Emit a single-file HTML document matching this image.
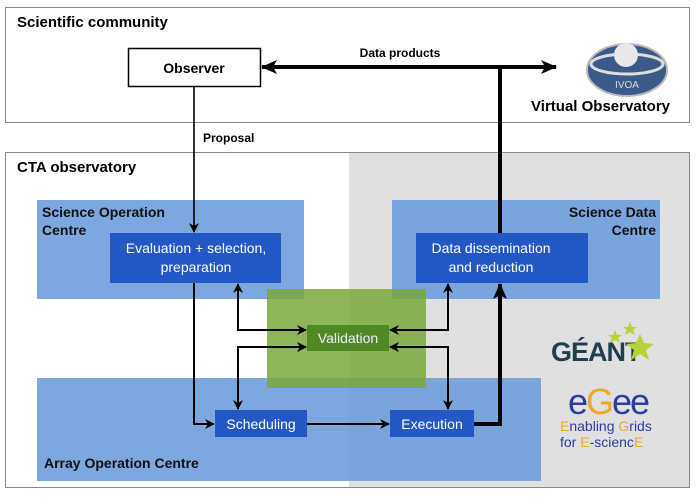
<!DOCTYPE html>
<html><head><meta charset="utf-8"><style>
body{margin:0;background:#fff}
svg text{font-family:"Liberation Sans",Arial,sans-serif}
</style></head><body>
<svg width="698" height="496" viewBox="0 0 698 496" xmlns="http://www.w3.org/2000/svg">
<defs>
<marker id="a" markerWidth="10" markerHeight="10" refX="9" refY="5" orient="auto" markerUnits="userSpaceOnUse"><path d="M0,0 L10,5 L0,10 L3,5 z" fill="#000"/></marker>
<marker id="b" markerWidth="16" markerHeight="14" refX="15" refY="7" orient="auto" markerUnits="userSpaceOnUse"><path d="M0,0 L16,7 L0,14 L4,7 z" fill="#000"/></marker>
</defs>
<rect x="5.5" y="7.5" width="684" height="115" fill="#fff" stroke="#888"/>
<text x="17" y="27" font-size="15" font-weight="bold">Scientific community</text>
<rect x="128.5" y="48.5" width="132" height="38" fill="#fff" stroke="#000" stroke-width="1.5"/>
<text x="194" y="73" font-size="14" font-weight="bold" text-anchor="middle">Observer</text>
<text x="400" y="57" font-size="12" font-weight="bold" text-anchor="middle">Data products</text>
<text x="670" y="111" font-size="15" font-weight="bold" text-anchor="end">Virtual Observatory</text>
<ellipse cx="627" cy="70" rx="40" ry="26" fill="#3a5a8a" stroke="#bbb" stroke-width="2"/>
<ellipse cx="627" cy="64" rx="36" ry="10" fill="none" stroke="#ddd" stroke-width="3"/>
<circle cx="626" cy="55" r="12" fill="#e8e8e8"/>
<text x="627" y="88" font-size="10" fill="#ddd" text-anchor="middle">IVOA</text>
<rect x="5.5" y="152.5" width="684" height="335" fill="#fff" stroke="#888"/>
<rect x="349" y="153" width="340" height="334" fill="#e0e0e0"/>
<text x="17" y="172" font-size="15" font-weight="bold">CTA observatory</text>
<text x="203" y="142" font-size="12" font-weight="bold">Proposal</text>
<rect x="37" y="200" width="267" height="99" fill="#6f9fdc" opacity="0.9"/>
<rect x="392" y="200" width="268" height="99" fill="#6f9fdc" opacity="0.9"/>
<rect x="37" y="378" width="504" height="103" fill="#6f9fdc" opacity="0.9"/>
<rect x="267" y="289" width="159" height="99" fill="#7aa83a" opacity="0.85"/>
<text x="42" y="217" font-size="14" font-weight="bold" fill="#111">Science Operation</text>
<text x="42" y="235" font-size="14" font-weight="bold" fill="#111">Centre</text>
<text x="656" y="217" font-size="14" font-weight="bold" fill="#111" text-anchor="end">Science Data</text>
<text x="656" y="235" font-size="14" font-weight="bold" fill="#111" text-anchor="end">Centre</text>
<text x="44" y="468" font-size="14" font-weight="bold" fill="#111">Array Operation Centre</text>
<rect x="110" y="233" width="171" height="50" fill="#2357c4"/>
<text x="196" y="253" font-size="14" fill="#fff" text-anchor="middle">Evaluation + selection,</text>
<text x="196" y="272" font-size="14" fill="#fff" text-anchor="middle">preparation</text>
<rect x="416" y="233" width="172" height="50" fill="#2357c4"/>
<text x="491" y="253" font-size="14" fill="#fff" text-anchor="middle">Data dissemination</text>
<text x="491" y="272" font-size="14" fill="#fff" text-anchor="middle">and reduction</text>
<rect x="307" y="325" width="82" height="26" fill="#4f8a24"/>
<text x="348" y="343" font-size="14" fill="#eef" text-anchor="middle">Validation</text>
<rect x="215" y="410" width="92" height="27" fill="#2357c4"/>
<text x="261" y="429" font-size="14" fill="#fff" text-anchor="middle">Scheduling</text>
<rect x="390" y="410" width="84" height="27" fill="#2357c4"/>
<text x="432" y="429" font-size="14" fill="#fff" text-anchor="middle">Execution</text>
<text x="551" y="361" font-size="27" font-weight="bold" fill="#1f3f4f" letter-spacing="-1">GÉANT</text>
<path d="M640,334 l4,9 10,1 -8,6 3,10 -9,-6 -9,6 3,-10 -8,-6 10,-1z" fill="#b5d334"/>
<path d="M615,330 l2,5 5,0 -4,3 2,5 -5,-3 -5,3 2,-5 -4,-3 5,0z" fill="#b5d334"/>
<path d="M630,322 l2,5 5,0 -4,3 2,5 -5,-3 -5,3 2,-5 -4,-3 5,0z" fill="#b5d334"/>
<text x="608" y="414" font-size="36" fill="#2a3ea0" text-anchor="middle" letter-spacing="-2">e<tspan fill="#f0a820">G</tspan>ee</text>
<text x="560" y="431" font-size="14" fill="#2a3ea0"><tspan fill="#f0a820">E</tspan>nabling <tspan fill="#f0a820">G</tspan>rids</text>
<text x="560" y="447" font-size="14" fill="#2a3ea0">for <tspan fill="#f0a820">E</tspan>-scienc<tspan fill="#f0a820">E</tspan></text>
<g fill="none" stroke="#000">
<line x1="500" y1="67" x2="262" y2="67" stroke-width="4" marker-end="url(#b)"/>
<line x1="498" y1="67" x2="556" y2="67" stroke-width="4" marker-end="url(#b)"/>
<line x1="500" y1="65" x2="500" y2="233" stroke-width="4"/>
<polyline points="474,424 500,424 500,284" stroke-width="4" marker-end="url(#b)"/>
<line x1="194" y1="86" x2="194" y2="232" stroke-width="1.6" marker-end="url(#a)"/>
<polyline points="194,283 194,424 214,424" stroke-width="2" marker-end="url(#a)"/>
<line x1="307" y1="424" x2="389" y2="424" stroke-width="2" marker-end="url(#a)"/>
<polyline points="306,330 238,330 238,284" stroke-width="2" marker-end="url(#a)"/>
<line x1="238" y1="330" x2="306" y2="330" stroke-width="2" marker-end="url(#a)"/>
<polyline points="306,347 238,347 238,409" stroke-width="2" marker-end="url(#a)"/>
<line x1="238" y1="347" x2="306" y2="347" stroke-width="2" marker-end="url(#a)"/>
<polyline points="390,330 448,330 448,284" stroke-width="2" marker-end="url(#a)"/>
<line x1="448" y1="330" x2="390" y2="330" stroke-width="2" marker-end="url(#a)"/>
<polyline points="390,347 448,347 448,409" stroke-width="2" marker-end="url(#a)"/>
<line x1="448" y1="347" x2="390" y2="347" stroke-width="2" marker-end="url(#a)"/>
</g>
</svg>
</body></html>
